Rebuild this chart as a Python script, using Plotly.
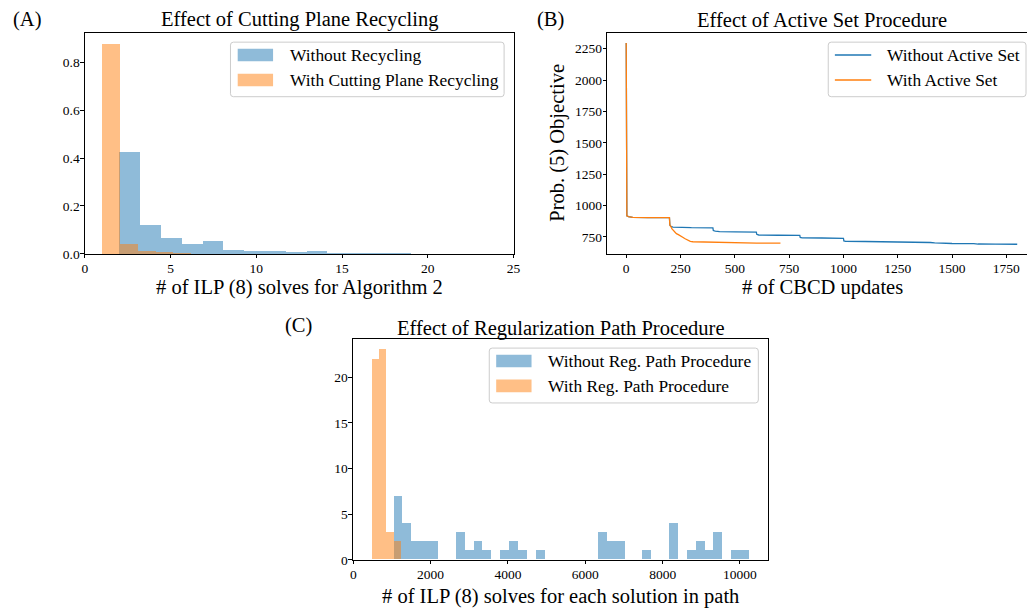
import numpy as np
import plotly.graph_objects as go

W, H = 1034, 611
FONT = "Liberation Serif, Times New Roman, serif"
BLUE = "#1f77b4"
ORANGE = "#ff7f0e"
BLUE_A = "rgba(31,119,180,0.5)"
ORANGE_A = "rgba(255,127,14,0.5)"

# ---- Panel A: normalised histograms of ILP solve counts ----
a_without_range = (2.0, 19.0)
a_without_density = [0.425, 0.121, 0.067, 0.042, 0.055, 0.018, 0.014,
                     0.014, 0.0095, 0.014, 0.0055, 0.0055, 0.0055, 0.0055]
a_with_range = (1.0, 6.2)
a_with_density = [0.878, 0.042, 0.0137, 0.008, 0.0055]

# ---- Panel B: objective value over CBCD updates ----
b_without_x = [0, 1, 3, 10, 30, 100, 199, 201, 205, 215, 240, 300, 399, 401,
               410, 430, 500, 599, 601, 610, 700, 799, 801, 810, 900, 1000,
               1002, 1010, 1100, 1200, 1250, 1300, 1400, 1420, 1450, 1500,
               1600, 1620, 1700, 1800]
b_without_y = [2296, 925, 918, 912, 905, 904, 903, 845, 834, 828, 825, 823,
               822, 800, 795, 791, 789, 788, 770, 765, 763, 762, 745, 742,
               741, 738, 718, 714, 713, 712, 710, 706, 705, 702, 698, 697,
               696, 693, 692, 691]
b_with_x = [0, 1, 3, 10, 30, 100, 199, 201, 205, 210, 216, 225, 231, 240,
            246, 255, 262, 269, 277, 285, 295, 307, 330, 360, 400, 450, 500,
            520, 600, 710]
b_with_y = [2296, 925, 918, 912, 905, 904, 903, 842, 835, 815, 803, 790,
            776, 768, 760, 752, 745, 737, 728, 719, 714, 711, 710, 709, 708,
            707, 705, 701, 700, 700]

# ---- Panel C: counts of ILP solves per path solution ----
c_without_range = (1040.0, 10230.0)
c_without_counts = [7, 4, 2, 2, 2, 0, 0, 3, 1, 2, 1, 0, 1, 2, 1, 0, 1, 0, 0, 0,
                    0, 0, 0, 3, 2, 2, 0, 0, 1, 0, 0, 4, 0, 1, 2, 1, 3, 0, 1, 1]
c_with_range = (470.0, 1238.0)
c_with_counts = [22, 23, 3, 2]

# ---- Tick values ----
a_xticks = [0, 5, 10, 15, 20, 25]
a_yticks = [0.0, 0.2, 0.4, 0.6, 0.8]
b_xticks = [0, 250, 500, 750, 1000, 1250, 1500, 1750]
b_yticks = [750, 1000, 1250, 1500, 1750, 2000, 2250]
c_xticks = [0, 2000, 4000, 6000, 8000, 10000]
c_yticks = [0, 5, 10, 15, 20]


def px(x):
    return x / W


def py(y):
    return 1 - y / H


def hist_bars(lo_hi, heights, color, xa, ya):
    edges = np.linspace(lo_hi[0], lo_hi[1], len(heights) + 1)
    centers = (edges[:-1] + edges[1:]) / 2
    return go.Bar(x=centers, y=heights, width=np.diff(edges),
                  marker=dict(color=color, line=dict(width=0)),
                  xaxis=xa, yaxis=ya, showlegend=False, hoverinfo="skip")


fig = go.Figure()
fig.add_trace(hist_bars(a_without_range, a_without_density, BLUE_A, "x", "y"))
fig.add_trace(hist_bars(a_with_range, a_with_density, ORANGE_A, "x", "y"))
fig.add_trace(go.Scatter(x=b_without_x, y=b_without_y, mode="lines",
                         line=dict(color=BLUE, width=1.3), xaxis="x2",
                         yaxis="y2", showlegend=False))
fig.add_trace(go.Scatter(x=b_with_x, y=b_with_y, mode="lines",
                         line=dict(color=ORANGE, width=1.3), xaxis="x2",
                         yaxis="y2", showlegend=False))
fig.add_trace(hist_bars(c_without_range, c_without_counts, BLUE_A, "x3", "y3"))
fig.add_trace(hist_bars(c_with_range, c_with_counts, ORANGE_A, "x3", "y3"))

tickfont = dict(family=FONT, size=13.5, color="black")


def axis(domain, rng, ticks, fmt, mirror=True, anchor=None):
    d = dict(domain=domain, range=rng, tickvals=ticks,
             ticktext=[fmt.format(t) for t in ticks], ticks="outside",
             ticklen=3.5, tickwidth=1, tickcolor="black", showline=True,
             linecolor="black", linewidth=1, mirror=mirror, showgrid=False,
             zeroline=False, tickfont=tickfont, fixedrange=True,
             ticklabelstandoff=-2)
    if anchor:
        d["anchor"] = anchor
    return d


ya_dom = [py(257.3), py(33.3)]
fig.update_layout(
    width=W, height=H, autosize=False,
    margin=dict(l=0, r=0, t=0, b=0),
    paper_bgcolor="white", plot_bgcolor="white",
    barmode="overlay", bargap=0,
    font=dict(family=FONT, color="black"),
    xaxis=axis([px(82.7), px(515.5)], [0, 25], a_xticks, "{:d}"),
    yaxis=axis(ya_dom, [0, 0.922], a_yticks, "{:.1f}"),
    xaxis2=axis([px(610), 1.0], [-88, 1845], b_xticks, "{:d}", anchor="y2"),
    yaxis2=axis(ya_dom, [614, 2376], b_yticks, "{:d}", mirror=False,
                anchor="x2"),
    xaxis3=axis([px(353.3), px(772.3)], [-10, 10720], c_xticks, "{:d}",
                anchor="y3"),
    yaxis3=axis([py(567.3), py(344)], [0, 24.15], c_yticks, "{:d}",
                anchor="x3"),
)

BIG = 20.5
LEG = 17.4
annotations = []


def text(x, y, s, size, xanchor="center", yanchor="middle", angle=0):
    annotations.append(dict(x=px(x), y=py(y), xref="paper", yref="paper",
                            text=s, showarrow=False, xanchor=xanchor,
                            yanchor=yanchor, textangle=angle,
                            font=dict(family=FONT, size=size, color="black")))


# Panel labels and titles
text(8, 20, "(A)", BIG, xanchor="left")
text(537, 20, "(B)", BIG, xanchor="left")
text(283, 330, "(C)", BIG, xanchor="left")
text(299, 20, "Effect of Cutting Plane Recycling", BIG)
text(827, 20, "Effect of Active Set Procedure", BIG)
text(563, 333, "Effect of Regularization Path Procedure", BIG)

# Axis titles
text(299, 291, "# of ILP (8) solves for Algorithm 2", BIG)
text(827, 291, "# of CBCD updates", BIG)
text(560, 145, "Prob. (5) Objective", BIG, angle=-90)
text(563, 604, "# of ILP (8) solves for each solution in path", BIG)

shapes = []


def rounded_box(x0, y0, x1, y1, r=3):
    X0, X1 = px(x0), px(x1)
    Y0, Y1 = py(y0), py(y1)
    rx, ry = r / W, r / H
    path = (f"M{X0 + rx},{Y0} L{X1 - rx},{Y0} Q{X1},{Y0} {X1},{Y0 - ry} "
            f"L{X1},{Y1 + ry} Q{X1},{Y1} {X1 - rx},{Y1} L{X0 + rx},{Y1} "
            f"Q{X0},{Y1} {X0},{Y1 + ry} L{X0},{Y0 - ry} Q{X0},{Y0} {X0 + rx},{Y0} Z")
    shapes.append(dict(type="path", path=path, xref="paper", yref="paper",
                       line=dict(color="#cccccc", width=1),
                       fillcolor="rgba(255,255,255,0.8)", layer="above"))


def patch(x0, x1, yc, color, h=12.7):
    shapes.append(dict(type="rect", xref="paper", yref="paper",
                       x0=px(x0), x1=px(x1), y0=py(yc + h / 2), y1=py(yc - h / 2),
                       fillcolor=color, line=dict(width=0), layer="above"))


def seg(x0, x1, yc, color):
    shapes.append(dict(type="line", xref="paper", yref="paper",
                       x0=px(x0), x1=px(x1), y0=py(yc), y1=py(yc),
                       line=dict(color=color, width=1.5), layer="above"))


# Legend A
rounded_box(229.7, 42.7, 506, 98)
patch(237, 272.7, 55.7, BLUE_A)
patch(237, 272.7, 81, ORANGE_A)
text(287.3, 55.7, "Without Recycling", LEG, xanchor="left")
text(287.3, 81, "With Cutting Plane Recycling", LEG, xanchor="left")

# Legend B
rounded_box(833.3, 42.7, 1033, 98)
seg(840, 876.7, 55.7, BLUE)
seg(840, 876.7, 81, ORANGE)
text(890.7, 55.7, "Without Active Set", LEG, xanchor="left")
text(890.7, 81, "With Active Set", LEG, xanchor="left")

# Legend C
rounded_box(491, 352.7, 762.7, 408.3)
patch(498, 533.7, 365.7, BLUE_A)
patch(498, 533.7, 391, ORANGE_A)
text(548.3, 365.7, "Without Reg. Path Procedure", LEG, xanchor="left")
text(548.3, 391, "With Reg. Path Procedure", LEG, xanchor="left")

fig.update_layout(annotations=annotations, shapes=shapes)
fig.write_html("out.html")
